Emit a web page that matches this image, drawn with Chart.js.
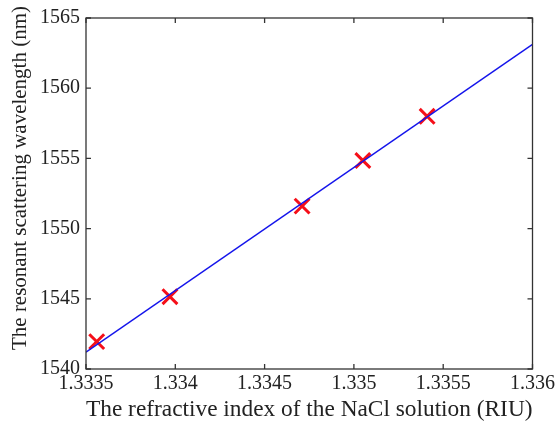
<!DOCTYPE html>
<html>
<head>
<meta charset="utf-8">
<script src="https://cdn.jsdelivr.net/npm/chart.js@4/dist/chart.umd.min.js"></script>
<style>
  html, body { margin: 0; padding: 0; background: #fff; }
  #wrap { width: 558px; height: 424px; }
</style>
</head>
<body>
<div id="wrap"><canvas id="c"></canvas></div>
<script>
// measured points (refractive index vs resonant wavelength)
const riu = [1.33356, 1.33397, 1.33471, 1.33505, 1.33541]
const wavelength = [1541.95, 1545.15, 1551.6, 1554.85, 1558.0]

// linear fit, evaluated at both ends of the x range
const fitX = [1.3335, 1.336]
const fitY = [1541.2, 1563.12]

const xTicks = [1.3335, 1.334, 1.3345, 1.335, 1.3355, 1.336]
const yTicks = [1540, 1545, 1550, 1555, 1560, 1565]

const yTitle = 'The resonant scattering wavelength (nm)'
const xTitle = 'The refractive index of the NaCl solution (RIU)'

const frameColor = '#333'
const textColor = '#222'
const font = { family: 'Liberation Serif', size: 20 }

// box around the plot + inward ticks on every side, plus the y title
const frame = {
    id: 'frame',
    afterDraw(chart) {
        const { ctx, chartArea: a, scales } = chart
        ctx.save()
        ctx.strokeStyle = frameColor
        ctx.lineWidth = 1.3
        ctx.strokeRect(a.left, a.top, a.right - a.left, a.bottom - a.top)
        const len = 5
        ctx.beginPath()
        xTicks.forEach(v => {
            const px = scales.x.getPixelForValue(v)
            ctx.moveTo(px, a.bottom); ctx.lineTo(px, a.bottom - len)
            ctx.moveTo(px, a.top); ctx.lineTo(px, a.top + len)
        })
        yTicks.forEach(v => {
            const py = scales.y.getPixelForValue(v)
            ctx.moveTo(a.left, py); ctx.lineTo(a.left + len, py)
            ctx.moveTo(a.right, py); ctx.lineTo(a.right - len, py)
        })
        ctx.stroke()

        // y title sits a bit above the centre of the axis in the original
        ctx.translate(20, 178)
        ctx.rotate(-Math.PI / 2)
        ctx.fillStyle = textColor
        ctx.font = '21px "Liberation Serif"'
        ctx.textAlign = 'center'
        ctx.textBaseline = 'middle'
        ctx.fillText(yTitle, 0, 0)
        ctx.restore()
    }
}

const chart = new Chart(document.getElementById('c'), {
    type: 'scatter',
    data: {
        datasets: [{
            label: 'fit',
            type: 'line',
            data: fitX.map((x, i) => ({ x: x, y: fitY[i] })),
            borderColor: 'rgb(20,20,235)',
            borderWidth: 1.4,
            pointRadius: 0,
            fill: false,
            order: 0,
        }, {
            label: 'measured',
            data: riu.map((x, i) => ({ x: x, y: wavelength[i] })),
            pointStyle: 'crossRot',
            pointRadius: 10.5,
            pointBorderWidth: 3,
            borderColor: 'rgb(245,15,25)',
            backgroundColor: 'rgb(245,15,25)',
            order: 1,
        }]
    },
    options: {
        responsive: true,
        maintainAspectRatio: false,
        animation: false,
        layout: { padding: { top: 14, right: 24, left: 0, bottom: 0 } },
        plugins: {
            legend: { display: false },
            tooltip: { enabled: false },
        },
        scales: {
            x: {
                type: 'linear',
                min: 1.3335,
                max: 1.336,
                afterBuildTicks: s => { s.ticks = xTicks.map(v => ({ value: v })) },
                afterFit: s => { s.height = 55 },
                grid: { display: false, drawTicks: false },
                border: { display: false },
                ticks: {
                    color: textColor,
                    font: font,
                    padding: 3,
                    maxRotation: 0,
                    autoSkip: false,
                    callback: v => String(Number(v.toFixed(4))),
                },
                title: {
                    display: true,
                    text: xTitle,
                    color: textColor,
                    font: { family: 'Liberation Serif', size: 23.5 },
                    padding: { top: 0, bottom: 0 },
                },
            },
            y: {
                type: 'linear',
                min: 1540,
                max: 1565,
                afterBuildTicks: s => { s.ticks = yTicks.map(v => ({ value: v })) },
                afterFit: s => { s.width = 86 },
                grid: { display: false, drawTicks: false },
                border: { display: false },
                ticks: {
                    color: textColor,
                    font: font,
                    padding: 6,
                    autoSkip: false,
                    callback: v => String(v),
                },
            }
        }
    },
    plugins: [frame]
})
</script>
</body>
</html>
